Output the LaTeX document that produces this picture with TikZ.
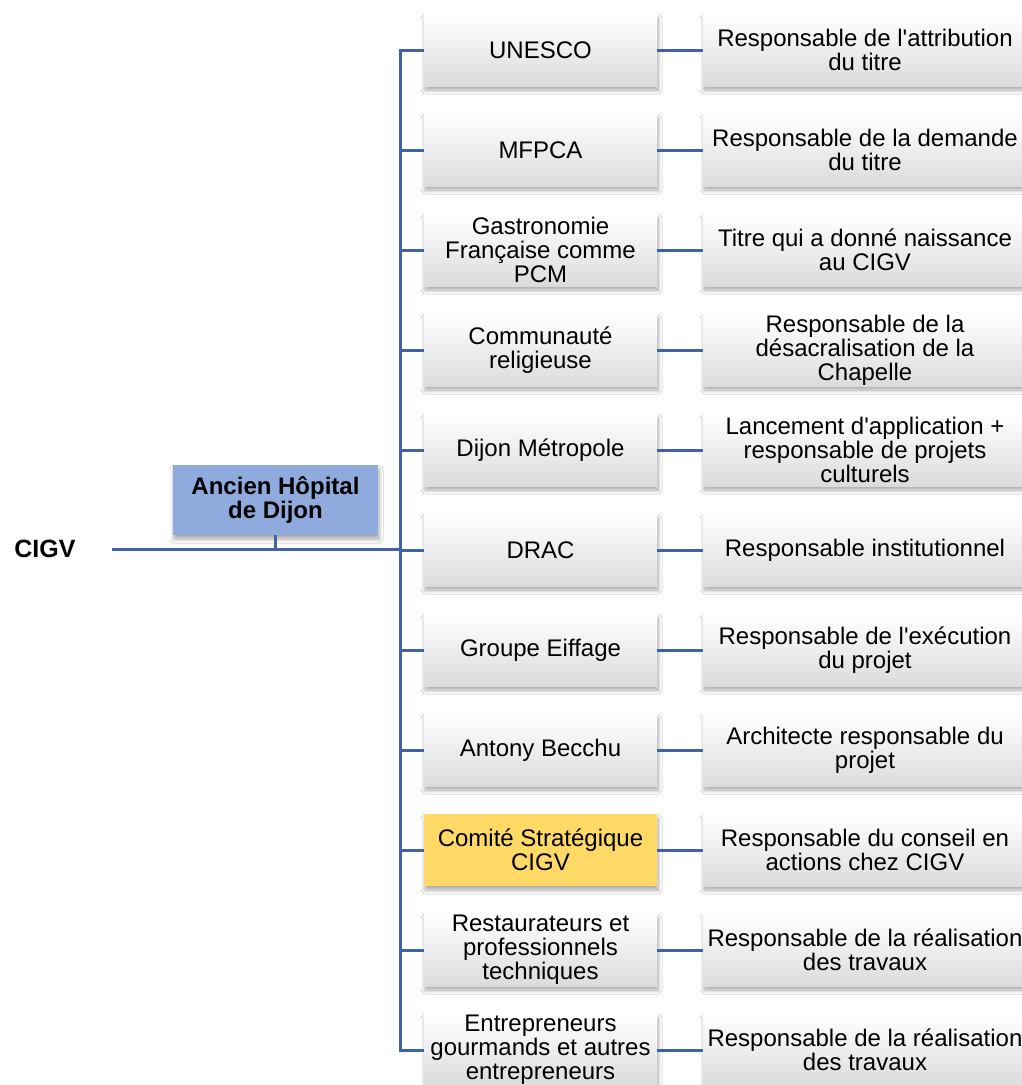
\documentclass[tikz,border=0pt]{standalone}
\usepackage{fontspec}
\setmainfont{Liberation Sans}
\usetikzlibrary{shadows.blur}
\definecolor{linec}{HTML}{3F63A6}
\definecolor{ancfill}{HTML}{8FAADC}
\definecolor{comfill}{HTML}{FFD966}
\begin{document}
\begin{tikzpicture}[x=1pt,y=-1pt,
  boxbase/.style={minimum height=72pt, inner sep=0pt, align=center, font=\fontsize{24}{24}\selectfont,
    blur shadow={shadow xshift=1pt, shadow yshift=-4pt, shadow blur steps=8, shadow blur radius=4pt, shadow opacity=35}},
  lbox/.style={boxbase, minimum width=233pt, top color=white, bottom color=black!14},
  rbox/.style={boxbase, minimum width=324pt, top color=white, bottom color=black!14},
  conn/.style={draw=linec, line width=3pt}]
\useasboundingbox (0,0) rectangle (1022,1085);
\fill[white] (0,0) rectangle (1022,1085);
% left column
\node[lbox] (l0) at (540.5,50) {UNESCO};
\node[lbox] (l1) at (540.5,150) {MFPCA};
\node[lbox] (l2) at (540.5,250) {Gastronomie\\Française comme\\PCM};
\node[lbox] (l3) at (540.5,350) {Communauté\\religieuse};
\node[lbox] (l4) at (540.5,450) {Dijon Métropole};
\node[lbox] (l5) at (540.5,550) {DRAC};
\node[lbox] (l6) at (540.5,650) {Groupe Eiffage};
\node[lbox] (l7) at (540.5,750) {Antony Becchu};
\node[boxbase, minimum width=233pt, fill=comfill] (l8) at (540.5,850) {Comité Stratégique\\CIGV};
\node[lbox] (l9) at (540.5,950) {Restaurateurs et\\professionnels\\techniques};
\node[lbox] (l10) at (540.5,1050) {Entrepreneurs\\gourmands et autres\\entrepreneurs};
% right column
\node[rbox] (r0) at (865,50) {Responsable de l\textquotesingle attribution\\du titre};
\node[rbox] (r1) at (865,150) {Responsable de la demande\\du titre};
\node[rbox] (r2) at (865,250) {Titre qui a donné naissance\\au CIGV};
\node[rbox] (r3) at (865,350) {Responsable de la\\désacralisation de la\\Chapelle};
\node[rbox] (r4) at (865,450) {Lancement d\textquotesingle application +\\responsable de projets\\culturels};
\node[rbox] (r5) at (865,550) {Responsable institutionnel};
\node[rbox] (r6) at (865,650) {Responsable de l\textquotesingle exécution\\du projet};
\node[rbox] (r7) at (865,750) {Architecte responsable du\\projet};
\node[rbox] (r8) at (865,850) {Responsable du conseil en\\actions chez CIGV};
\node[rbox] (r9) at (865,950) {Responsable de la réalisation\\des travaux};
\node[rbox] (r10) at (865,1050) {Responsable de la réalisation\\des travaux};
% root
\node[font=\bfseries\fontsize{25}{24}\selectfont] (cigv) at (45,549) {CIGV};
\node[boxbase, minimum width=205pt, minimum height=70pt, fill=ancfill, font=\bfseries\fontsize{24}{24}\selectfont] (anc) at (275.5,500) {Ancien Hôpital\\de Dijon};
\coordinate (start) at (112,549);
\coordinate (bus) at (400,549);
% connectors
\draw[conn] (start) -- (bus);
\draw[conn] (anc.south) -- (anc.south |- bus);
\foreach \i in {0,...,10}{
  \draw[conn] (bus) |- (l\i.west);
  \draw[conn] (l\i.east) -- (r\i.west);
}
\end{tikzpicture}
\end{document}
